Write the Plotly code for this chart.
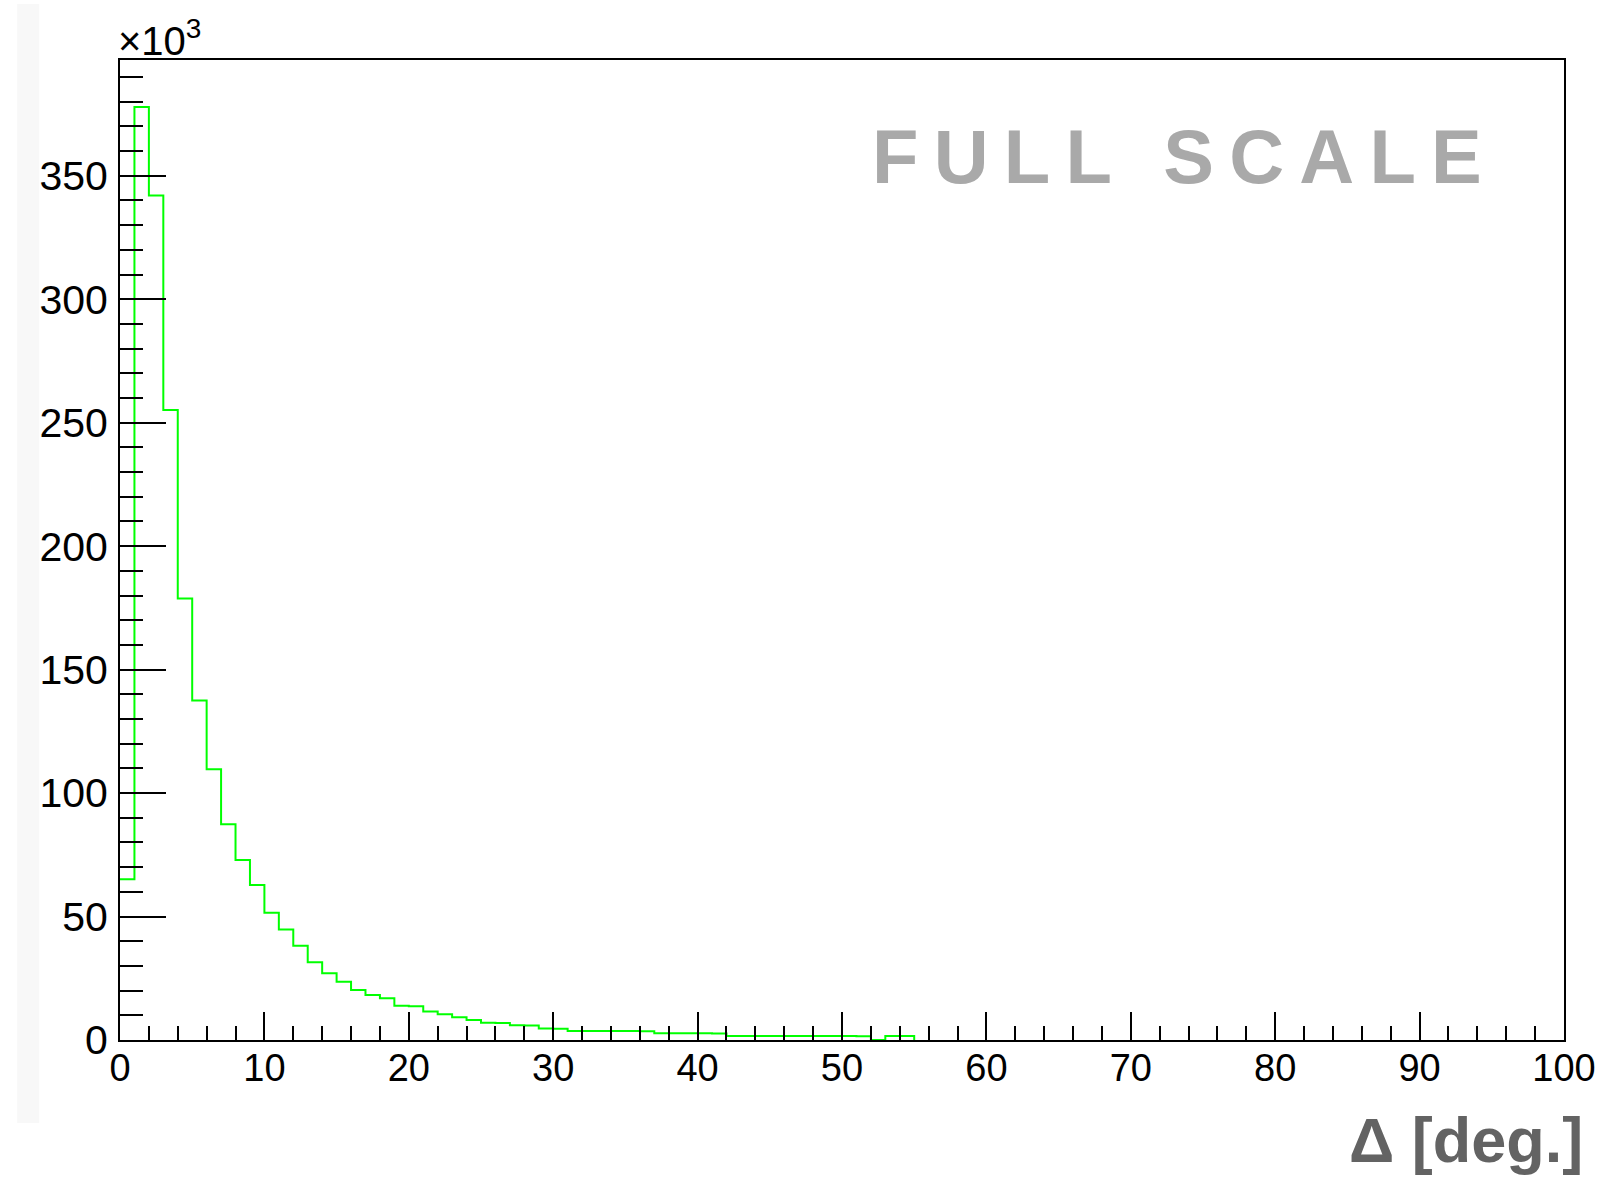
import plotly.graph_objects as go

# ---- data (counts in units of 10^3), bins of width 1 degree starting at 0 ----
bin_low_edges = list(range(0, 55))
counts_k = [65.1, 377.9, 342.0, 255.1, 178.8, 137.5, 109.7, 87.4, 72.9, 62.8,
            51.5, 44.8, 38.2, 31.5, 27.0, 23.6, 20.2, 18.2, 16.9, 13.9,
            13.7, 11.5, 10.4, 9.2, 8.1, 7.0, 6.9, 6.0, 5.9, 4.7,
            4.6, 3.6, 3.6, 3.6, 3.6, 3.6, 3.5, 2.7, 2.7, 2.7,
            2.7, 2.6, 1.6, 1.6, 1.6, 1.6, 1.6, 1.6, 1.6, 1.6,
            1.6, 1.5, 0.0, 1.6, 1.6]
last_filled_edge = 55
x_axis_end = 100
y_axis_max = 396.9
x_tick_vals = [0, 10, 20, 30, 40, 50, 60, 70, 80, 90, 100]
y_tick_vals = [0, 50, 100, 150, 200, 250, 300, 350]

W, H = 1608, 1178
L, R, T, B = 120, 1567, 60, 1040

def px(xp):
    return (xp - L) / (R - L)

def py(yp):
    return (B - yp) / (B - T)

FONT = "Liberation Sans, Arial, Helvetica, sans-serif"

xs = bin_low_edges + [last_filled_edge]
ys = counts_k + [0.0]

fig = go.Figure()
fig.add_trace(go.Scatter(
    x=xs, y=ys, mode="lines", line=dict(color="#00ff00", width=2, shape="hv"),
    hoverinfo="skip", showlegend=False))

fig.update_layout(
    width=W, height=H,
    margin=dict(l=L, r=W - R, t=T, b=H - B, pad=0),
    paper_bgcolor="white", plot_bgcolor="white",
    font=dict(family=FONT, color="black"),
    showlegend=False,
)

fig.update_xaxes(
    range=[0, x_axis_end], tickvals=x_tick_vals, ticktext=[str(v) for v in x_tick_vals],
    ticks="inside", ticklen=28, tickwidth=2, tickcolor="black",
    minor=dict(dtick=2, ticks="inside", ticklen=14, tickwidth=2, tickcolor="black", showgrid=False),
    showline=True, linecolor="black", linewidth=2, mirror=True,
    showgrid=False, zeroline=False,
    tickfont=dict(size=38, family=FONT, color="black"),
    ticklabelstandoff=-7,
)
fig.update_yaxes(
    range=[0, y_axis_max], tickvals=y_tick_vals, ticktext=[str(v) for v in y_tick_vals],
    ticks="inside", ticklen=46, tickwidth=2, tickcolor="black",
    minor=dict(dtick=10, ticks="inside", ticklen=23, tickwidth=2, tickcolor="black", showgrid=False),
    showline=True, linecolor="black", linewidth=2, mirror=True,
    showgrid=False, zeroline=False,
    tickfont=dict(size=41, family=FONT, color="black"),
    ticklabelstandoff=2,
)

# faint band at left edge of the picture
fig.add_shape(type="rect", xref="paper", yref="paper",
              x0=px(17), x1=px(39), y0=py(1123), y1=py(4),
              fillcolor="#f8f8f8", line=dict(width=0), layer="below")

thin = "\u2009"
full_scale = thin.join("FULL") + thin + " " + thin + thin.join("SCALE")

fig.add_annotation(xref="paper", yref="paper", x=px(1179), y=py(157),
                   text=full_scale, showarrow=False, xanchor="center", yanchor="middle",
                   font=dict(size=76, family=FONT, color="#a9a9a9", weight="bold"))

fig.add_annotation(xref="paper", yref="paper", x=px(116), y=py(38),
                   text="\u00d710<sup>3</sup>", showarrow=False, xanchor="left", yanchor="middle",
                   font=dict(size=40, family=FONT, color="black"))

fig.add_annotation(xref="paper", yref="paper", x=px(1588), y=py(1140),
                   text="\u0394 [deg.]", showarrow=False, xanchor="right", yanchor="middle",
                   font=dict(size=63, family=FONT, color="#636363", weight="bold"))

fig.write_html("out.html")
